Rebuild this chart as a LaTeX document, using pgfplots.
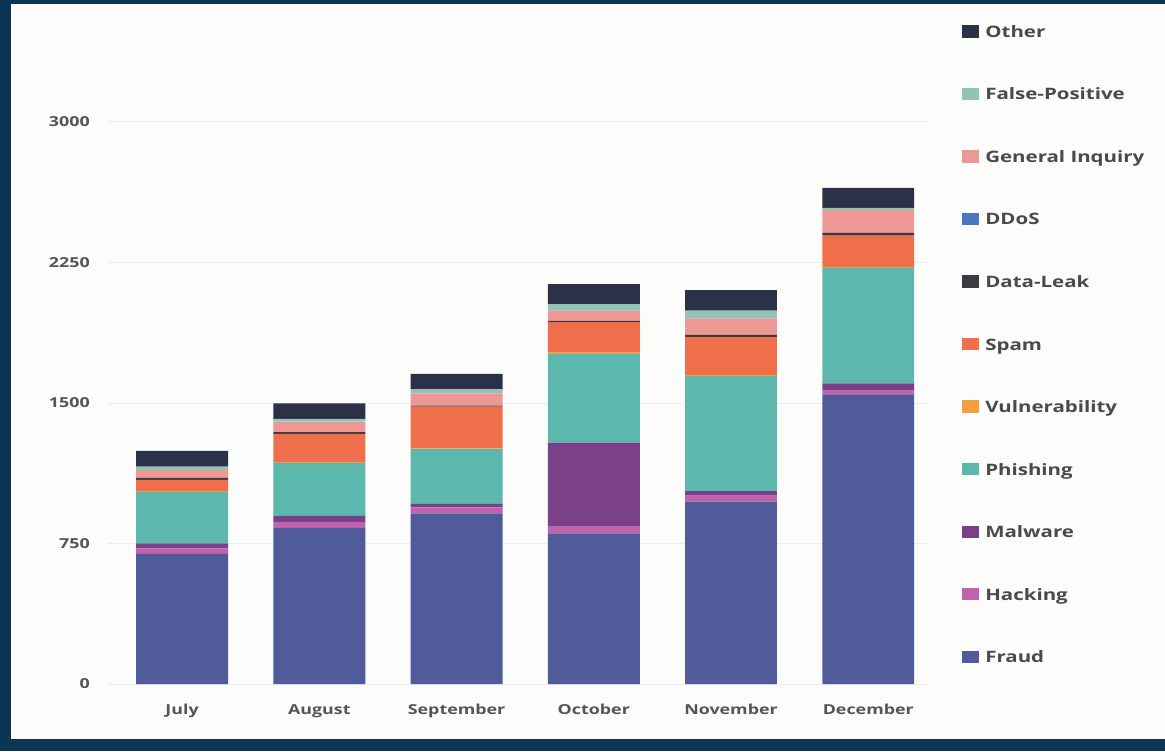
\documentclass[border=0pt]{standalone}
\usepackage{fontspec}
\setmainfont{Open Sans}[FakeStretch=1.3]
\usepackage{pgfplots}
\usepackage{pgfplotstable}
\pgfplotsset{compat=1.18}
\definecolor{framecol}{HTML}{0C3453}
\definecolor{bgcol}{HTML}{FCFCFB}
\definecolor{gridcol}{HTML}{EDEDED}
\definecolor{tickcol}{HTML}{555555}
\definecolor{legcol}{HTML}{4A4A4A}
\definecolor{cFraud}{HTML}{4F5B9B}
\definecolor{cHacking}{HTML}{BE63AE}
\definecolor{cMalware}{HTML}{7B408A}
\definecolor{cPhishing}{HTML}{5CB8AD}
\definecolor{cVuln}{HTML}{F2A03D}
\definecolor{cSpam}{HTML}{EF6F4D}
\definecolor{cLeak}{HTML}{3B3B40}
\definecolor{cDDoS}{HTML}{4A77BE}
\definecolor{cGen}{HTML}{EE9896}
\definecolor{cFalse}{HTML}{90C5B6}
\definecolor{cOther}{HTML}{2B3147}
\pgfplotstableread{
x Fraud Hacking Malware Phishing Vuln Spam Leak DDoS GenInq FalsePos Other
0 694 30 27 274 5 59 11 0 42 18 85
1 834 32 32 282 5 150 9 0 56 15 83
2 911 32 18 293 4 223 5 0 66 21 82
3 804 39 445 474 7 163 7 0 54 35 107
4 973 32 25 614 6 202 11 0 89 41 110
5 1543 23 39 616 5 167 15 0 121 12 107
}\data
\begin{document}
\begin{tikzpicture}
\begin{scope}[x=0.75pt,y=0.75pt]
\fill[framecol] (0,0) rectangle (1165,751);
\fill[bgcol] (11,12) rectangle (1165,747);
\end{scope}
\begin{axis}[
  at={(81pt,50.25pt)}, anchor=south west,
  scale only axis, width=616.5pt, height=421.5pt,
  xmin=-0.54, xmax=5.45, ymin=0, ymax=3000,
  ybar stacked, bar width=0.67,
  axis line style={draw=none},
  major tick length=0pt,
  ymajorgrids, grid style={color=gridcol, line width=0.75pt},
  ytick={0,750,1500,2250,3000},
  scaled y ticks=false,
  yticklabel style={/pgf/number format/1000 sep={}},
  xtick={0,1,2,3,4,5},
  xticklabels={July,August,September,October,November,December},
  /pgf/number format/assume math mode=true,
  /pgf/number format/1000 sep={},
  ticklabel style={font=\bfseries\fontsize{10.3pt}{12pt}\selectfont, text=tickcol, inner sep=0pt},
  yticklabel style={anchor=east, xshift=-13.5pt},
  xticklabel style={anchor=base, yshift=-22.5pt},
  legend style={at={(axis description cs:1.0386,1.1726)}, anchor=north west,
    draw=none, fill=none, inner sep=0pt, row sep=37.7pt, column sep=5pt,
    font=\bfseries\fontsize{11.8pt}{14pt}\selectfont, text=legcol,
    nodes={inner sep=0pt, text height=9pt, text depth=0pt}},
  legend cell align=left,
  reverse legend,
  every axis plot post/.append style={legend image code/.code={\fill[##1] (0pt,-4.6pt) rectangle (12.5pt,4.6pt);}},
]
\addplot[fill=cFraud, draw=none] table[x=x,y=Fraud]{\data};
\addlegendentry{Fraud}
\addplot[fill=cHacking, draw=none] table[x=x,y=Hacking]{\data};
\addlegendentry{Hacking}
\addplot[fill=cMalware, draw=none] table[x=x,y=Malware]{\data};
\addlegendentry{Malware}
\addplot[fill=cPhishing, draw=none] table[x=x,y=Phishing]{\data};
\addlegendentry{Phishing}
\addplot[fill=cVuln, draw=none] table[x=x,y=Vuln]{\data};
\addlegendentry{Vulnerability}
\addplot[fill=cSpam, draw=none] table[x=x,y=Spam]{\data};
\addlegendentry{Spam}
\addplot[fill=cLeak, draw=none] table[x=x,y=Leak]{\data};
\addlegendentry{Data-Leak}
\addplot[fill=cDDoS, draw=none] table[x=x,y=DDoS]{\data};
\addlegendentry{DDoS}
\addplot[fill=cGen, draw=none] table[x=x,y=GenInq]{\data};
\addlegendentry{General Inquiry}
\addplot[fill=cFalse, draw=none] table[x=x,y=FalsePos]{\data};
\addlegendentry{False-Positive}
\addplot[fill=cOther, draw=none] table[x=x,y=Other]{\data};
\addlegendentry{Other}
\end{axis}
\end{tikzpicture}
\end{document}
